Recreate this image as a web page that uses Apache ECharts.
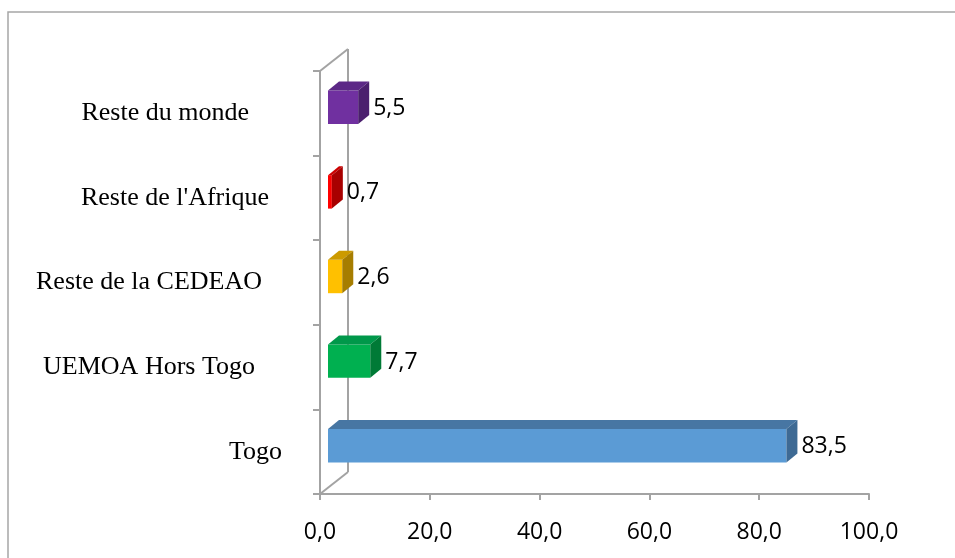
<!DOCTYPE html>
<html>
<head>
<meta charset="utf-8">
<script src="https://cdn.jsdelivr.net/npm/echarts@6/dist/echarts.min.js"></script>
<style>
html,body{margin:0;padding:0;background:#fff;}
#chart{width:955px;height:558px;}
</style>
</head>
<body>
<div id="chart"></div>
<script>
// ---- data ----
var categories = ['Togo', 'UEMOA Hors Togo', 'Reste de la CEDEAO', "Reste de l'Afrique", 'Reste du monde'];
var values = [83.5, 7.7, 2.6, 0.7, 5.5];
var xTicks = [0, 20, 40, 60, 80, 100];

// ---- styles ----
var frontColors = ['#5B9BD5', '#00B050', '#FFC000', '#FF0000', '#7030A0'];
var topColors   = ['#4776A3', '#00984A', '#CC9A00', '#CC0000', '#5C2886'];
var sideColors  = ['#3E6A94', '#007A36', '#A67D00', '#A80000', '#4B1F6E'];
var labelPad = [38, 65, 58, 51, 71];

var gray = '#a3a3a3';
var WALL_DX = 28, WALL_DY = -22;   // wall depth
var BAR_OX = 8, BAR_OY = -6;       // bar front face offset
var BAR_DX = 11, BAR_DY = -9;      // bar depth
var BAR_H = 0.395;                 // fraction of band

function fmt(v) { return v.toFixed(1).replace('.', ','); }

var chart = echarts.init(document.getElementById('chart'), null, {renderer: 'canvas'});

var rich = {};
categories.forEach(function (c, i) {
  rich['c' + i] = {
    fontFamily: 'Liberation Serif', fontSize: 26, color: '#000',
    padding: [0, labelPad[i], 0, 0]
  };
});

var barData = values.map(function (v, i) { return [v, i]; });

var option = {
  animation: false,
  backgroundColor: '#fff',
  graphic: [{
    type: 'rect', shape: {x: 8, y: 12, width: 1200, height: 900},
    style: {fill: 'none', stroke: '#a6a6a6', lineWidth: 1.5}, z: -10, silent: true
  }],
  grid: {left: 320, right: 86, top: 71, bottom: 64, containLabel: false},
  xAxis: {
    type: 'value', min: xTicks[0], max: xTicks[xTicks.length - 1], interval: 20,
    axisLine: {show: true, lineStyle: {color: gray, width: 2}},
    axisTick: {show: true, length: 6, lineStyle: {color: gray, width: 2}},
    splitLine: {show: false},
    axisLabel: {
      margin: 27, fontFamily: 'Open Sans', fontSize: 23, color: '#000',
      formatter: function (v) { return fmt(v); }
    }
  },
  yAxis: {
    type: 'category', data: categories,
    axisLine: {show: true, lineStyle: {color: gray, width: 2}},
    axisTick: {show: true, length: 7, lineStyle: {color: gray, width: 2}},
    axisLabel: {
      margin: 0, align: 'right', rich: rich,
      fontFamily: 'Liberation Serif', fontSize: 26, color: '#000',
      formatter: function (v, i) { return '{c' + i + '|' + v + '}'; }
    }
  },
  series: [{
    type: 'custom',
    name: 'walls',
    data: [[0, 0]],
    z: 1,
    silent: true,
    renderItem: function (params, api) {
      var cs = params.coordSys;
      var x0 = cs.x, y0 = cs.y, y1 = cs.y + cs.height;
      var ls = {stroke: gray, lineWidth: 2, fill: 'none'};
      return {
        type: 'group',
        children: [
          {type: 'line', shape: {x1: x0 + WALL_DX, y1: y0 + WALL_DY, x2: x0 + WALL_DX, y2: y1 + WALL_DY}, style: ls},
          {type: 'line', shape: {x1: x0, y1: y0, x2: x0 + WALL_DX, y2: y0 + WALL_DY}, style: ls},
          {type: 'line', shape: {x1: x0, y1: y1, x2: x0 + WALL_DX, y2: y1 + WALL_DY}, style: ls}
        ]
      };
    }
  }, {
    type: 'custom',
    name: 'bars',
    data: barData,
    z: 2,
    encode: {x: 0, y: 1},
    renderItem: function (params, api) {
      var v = api.value(0), c = api.value(1);
      var p0 = api.coord([0, c]);
      var p1 = api.coord([v, c]);
      var band = api.size([0, 1])[1];
      var h = band * BAR_H;
      var fx0 = p0[0] + BAR_OX;
      var fx1 = p1[0] + BAR_OX;
      var cy = p0[1] + BAR_OY;
      var fy0 = cy - h / 2, fy1 = cy + h / 2;
      var i = params.dataIndex;
      return {
        type: 'group',
        children: [
          {type: 'rect', shape: {x: fx0, y: fy0, width: fx1 - fx0, height: h},
           style: {fill: frontColors[i]}},
          {type: 'polygon', shape: {points: [[fx0, fy0], [fx0 + BAR_DX, fy0 + BAR_DY], [fx1 + BAR_DX, fy0 + BAR_DY], [fx1, fy0]]},
           style: {fill: topColors[i]}},
          {type: 'polygon', shape: {points: [[fx1, fy0], [fx1 + BAR_DX, fy0 + BAR_DY], [fx1 + BAR_DX, fy1 + BAR_DY], [fx1, fy1]]},
           style: {fill: sideColors[i]}},
          {type: 'text', x: fx1 + BAR_DX + 4, y: cy + 1,
           style: {text: fmt(v), fontFamily: 'Open Sans', fontSize: 23, fill: '#000',
                   align: 'left', verticalAlign: 'middle'}}
        ]
      };
    }
  }]
};
chart.setOption(option);
</script>
</body>
</html>
